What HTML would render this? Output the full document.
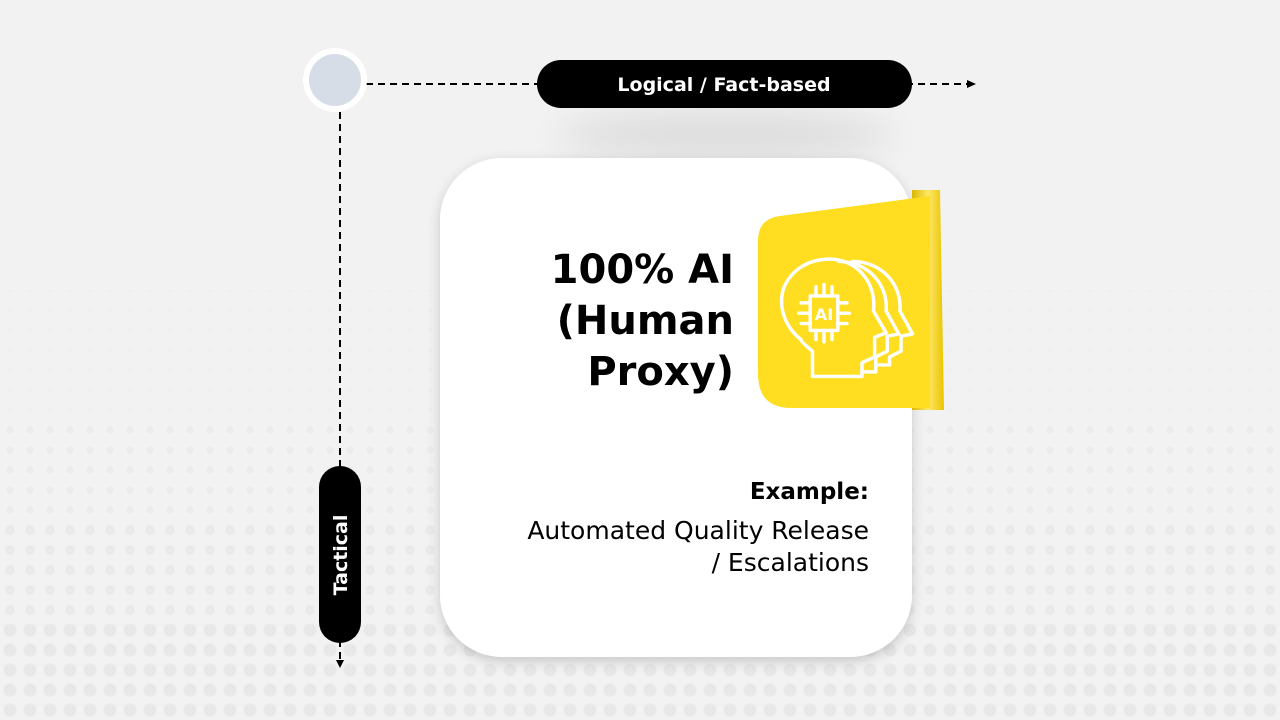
<!DOCTYPE html>
<html><head><meta charset="utf-8"><style>
html,body{margin:0;padding:0;width:1280px;height:720px;overflow:hidden;background:#f2f2f2;font-family:"DejaVu Sans",sans-serif}
</style></head><body>
<svg width="1280" height="720" viewBox="0 0 1280 720" xmlns="http://www.w3.org/2000/svg" style="position:absolute;left:0;top:0">
<defs>
<pattern id="p1" x="2" y="2" width="20" height="20" patternUnits="userSpaceOnUse"><circle cx="8" cy="8" r="2" fill="#ebebeb"/></pattern>
<pattern id="p2" x="2" y="2" width="20" height="20" patternUnits="userSpaceOnUse"><circle cx="8" cy="8" r="3.5" fill="#ebebeb"/></pattern>
<pattern id="p3" x="2" y="2" width="20" height="20" patternUnits="userSpaceOnUse"><circle cx="8" cy="8" r="5" fill="#eaeaea"/></pattern>
<pattern id="p4" x="2" y="2" width="20" height="20" patternUnits="userSpaceOnUse"><circle cx="8" cy="8" r="6.5" fill="#e8e8e8"/></pattern>
<filter id="sh" x="-20%" y="-20%" width="140%" height="140%"><feDropShadow dx="0" dy="4" stdDeviation="6" flood-color="#000" flood-opacity="0.18"/></filter>
<filter id="sh2" x="-30%" y="-100%" width="160%" height="300%"><feGaussianBlur stdDeviation="18"/></filter>
<linearGradient id="fold" x1="0" x2="1"><stop offset="0" stop-color="#d9b800"/><stop offset="0.5" stop-color="#ffe766"/><stop offset="1" stop-color="#e8c400"/></linearGradient>
</defs>
<rect x="0" y="290" width="1280" height="130" fill="url(#p1)" opacity="0.6"/>
<rect x="0" y="420" width="1280" height="100" fill="url(#p2)" opacity="0.8"/>
<rect x="0" y="520" width="1280" height="100" fill="url(#p3)"/>
<rect x="0" y="620" width="1280" height="100" fill="url(#p4)"/>
<ellipse cx="725" cy="135" rx="170" ry="22" fill="#000" opacity="0.09" filter="url(#sh2)"/>
<rect x="440" y="158" width="472" height="499" rx="62" fill="#fff" filter="url(#sh)"/>
<path d="M912 190 L940 190 L944 410 L912 410 Z" fill="url(#fold)"/>
<path d="M780 216 L930 196 L930 408 L792 408 Q758 408 758 374 L758 240 Q758 219 780 216 Z" fill="#ffde21"/>
<g transform="translate(778,258) scale(1.15) translate(-780,-259)">
<g fill="none" stroke="#fff" stroke-width="3" stroke-linejoin="round" stroke-linecap="round">
<path d="M845 262 C870 262 888 282 886 305 L897 325 L887 327 L887 340 L877 345 L877 352 L865 352"/>
<path d="M833 262 C858 262 876 282 874 305 L885 325 L875 327 L875 340 L865 345 L865 358 L853 358"/>
<path d="M800 330 C785 318 780 300 785 285 C792 268 808 260 825 260 C848 260 866 280 863 305 L874 324 L864 328 L864 345 L853 350 L853 362 L810 362 L810 340 Q800 332 800 330"/>
<rect x="808" y="292" width="24" height="30"/>
<path d="M813 292 v-8 M820 292 v-10 M827 292 v-8 M813 322 v8 M820 322 v10 M827 322 v8 M808 298 h-8 M808 307 h-10 M808 316 h-8 M832 298 h8 M832 307 h10 M832 316 h8"/>
</g>
<text x="820" y="313" font-size="14" font-weight="bold" fill="#fff" text-anchor="middle">AI</text>
</g>
<g font-weight="bold" font-size="40" fill="#000" text-anchor="end">
<text x="734" y="283">100% AI</text>
<text x="734" y="334">(Human</text>
<text x="734" y="385">Proxy)</text>
</g>
<text x="869" y="499" text-anchor="end" font-size="23" font-weight="bold">Example:</text>
<text x="869" y="539" text-anchor="end" font-size="25">Automated Quality Release</text>
<text x="869" y="571" text-anchor="end" font-size="25">/ Escalations</text>
<g stroke="#000" stroke-width="2" stroke-dasharray="7 5" fill="none">
<line x1="366" y1="84" x2="968" y2="84"/>
<line x1="340" y1="112" x2="340" y2="660"/>
</g>
<path d="M967 80 L976 84 L967 88 Z" fill="#000"/>
<path d="M336 660 L340 668 L344 660 Z" fill="#000"/>
<circle cx="335" cy="80" r="32" fill="#fff"/>
<circle cx="335" cy="80" r="26" fill="#d6dde6"/>
<rect x="537" y="60" width="375" height="48" rx="24" fill="#000"/>
<text x="724" y="91" text-anchor="middle" font-size="19" font-weight="bold" fill="#fff">Logical / Fact-based</text>
<rect x="319" y="466" width="42" height="177" rx="21" fill="#000"/>
<text transform="translate(347,555) rotate(-90)" text-anchor="middle" font-size="19" font-weight="bold" fill="#fff">Tactical</text>
</svg>
</body></html>
